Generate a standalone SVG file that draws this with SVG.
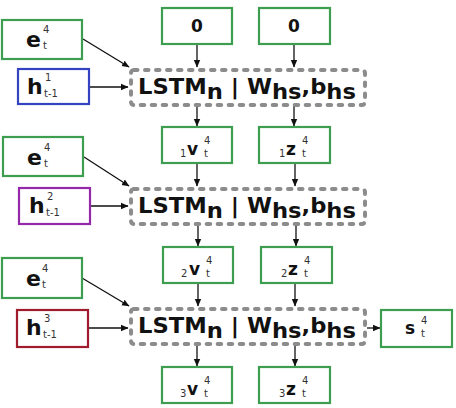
<svg xmlns="http://www.w3.org/2000/svg" width="456" height="408" viewBox="0 0 456 408">
<defs>
<marker id="ah" markerWidth="8" markerHeight="8" refX="7" refY="4" orient="auto" markerUnits="userSpaceOnUse">
<path d="M0,0.8 L7.5,4 L0,7.2 Z" fill="#111"/>
</marker>
<style>
.g{fill:#fff;stroke:#3d9e50;stroke-width:2.2}
.blue{fill:#fff;stroke:#3443c0;stroke-width:2.2}
.pur{fill:#fff;stroke:#9528a8;stroke-width:2.2}
.red{fill:#fff;stroke:#a01c2c;stroke-width:2.2}
.lstm{fill:#fff;stroke:#8c8c8c;stroke-width:4;stroke-dasharray:3.5 7.5;stroke-linecap:round}
.big{font-family:"DejaVu Sans",sans-serif;font-weight:bold;font-size:22px;fill:#111}
.mid{font-family:"DejaVu Sans",sans-serif;font-weight:bold;font-size:17px;fill:#111}
.sm{font-family:"DejaVu Sans",sans-serif;font-size:10px;fill:#333}
.lt{font-family:"DejaVu Sans",sans-serif;font-weight:bold;font-size:22px;fill:#111}
.c{stroke:#111;stroke-width:1.3;fill:none;marker-end:url(#ah)}
</style>
</defs>
<rect width="456" height="408" fill="#fff"/>
<g id="connectors">
<path class="c" d="M197,44 V67"/>
<path class="c" d="M294,44 V67"/>
<path class="c" d="M83,39 L129,67"/>
<path class="c" d="M89,87 H128"/>
<path class="c" d="M197,106 V126"/>
<path class="c" d="M294,106 V126"/>
<path class="c" d="M197,163 V186"/>
<path class="c" d="M295,163 V186"/>
<path class="c" d="M84,157 L129,186"/>
<path class="c" d="M90,206 H128"/>
<path class="c" d="M198,225 V246"/>
<path class="c" d="M296,225 V246"/>
<path class="c" d="M198,283 V306"/>
<path class="c" d="M295,283 V306"/>
<path class="c" d="M82,278 L129,306"/>
<path class="c" d="M88,328 H128"/>
<path class="c" d="M197,345 V366"/>
<path class="c" d="M295,345 V366"/>
<path class="c" d="M367,328 H380"/>
</g>
<g id="zero1"><rect class="g" x="162" y="8" width="70" height="36"/><text class="mid" x="197" y="32" text-anchor="middle">0</text></g>
<g id="zero2"><rect class="g" x="259" y="8" width="71" height="36"/><text class="mid" x="294" y="32" text-anchor="middle">0</text></g>
<g id="e1"><rect class="g" x="2" y="20" width="80" height="39"/><text class="big" x="26" y="47">e</text><text class="sm" x="43" y="33">4</text><text class="sm" x="43" y="49">t</text></g>
<g id="h1"><rect class="blue" x="18" y="69" width="71" height="35"/><text class="big" x="27" y="94">h</text><text class="sm" x="45" y="81">1</text><text class="sm" x="44" y="97">t-1</text></g>
<g id="lstm1"><rect class="lstm" x="131" y="70" width="234" height="35" rx="3"/><text class="lt" x="138" y="94" textLength="218" lengthAdjust="spacingAndGlyphs">LSTM<tspan dy="5">n</tspan><tspan dy="-5"> | W</tspan><tspan dy="5">hs</tspan><tspan dy="-5">,b</tspan><tspan dy="5">hs</tspan></text></g>
<g id="v1"><rect class="g" x="162" y="127" width="70" height="36"/><text class="sm" x="180" y="157">1</text><text class="mid" x="187" y="155">v</text><text class="sm" x="204" y="144">4</text><text class="sm" x="204" y="157">t</text></g>
<g id="z1"><rect class="g" x="259" y="127" width="71" height="36"/><text class="sm" x="279" y="157">1</text><text class="mid" x="286" y="155">z</text><text class="sm" x="302" y="144">4</text><text class="sm" x="302" y="157">t</text></g>
<g id="e2"><rect class="g" x="3" y="137" width="80" height="39"/><text class="big" x="27" y="165">e</text><text class="sm" x="44" y="151">4</text><text class="sm" x="44" y="167">t</text></g>
<g id="h2"><rect class="pur" x="19" y="188" width="71" height="36"/><text class="big" x="29" y="213">h</text><text class="sm" x="47" y="200">2</text><text class="sm" x="46" y="216">t-1</text></g>
<g id="lstm2"><rect class="lstm" x="131" y="189" width="234" height="35" rx="3"/><text class="lt" x="138" y="213" textLength="218" lengthAdjust="spacingAndGlyphs">LSTM<tspan dy="5">n</tspan><tspan dy="-5"> | W</tspan><tspan dy="5">hs</tspan><tspan dy="-5">,b</tspan><tspan dy="5">hs</tspan></text></g>
<g id="v2"><rect class="g" x="163" y="247" width="70" height="36"/><text class="sm" x="181" y="277">2</text><text class="mid" x="189" y="275">v</text><text class="sm" x="206" y="264">4</text><text class="sm" x="206" y="277">t</text></g>
<g id="z2"><rect class="g" x="261" y="247" width="71" height="36"/><text class="sm" x="281" y="277">2</text><text class="mid" x="288" y="275">z</text><text class="sm" x="304" y="264">4</text><text class="sm" x="304" y="277">t</text></g>
<g id="e3"><rect class="g" x="2" y="258" width="80" height="40"/><text class="big" x="26" y="286">e</text><text class="sm" x="42" y="272">4</text><text class="sm" x="42" y="288">t</text></g>
<g id="h3"><rect class="red" x="17" y="310" width="71" height="37"/><text class="big" x="26" y="335">h</text><text class="sm" x="44" y="322">3</text><text class="sm" x="43" y="338">t-1</text></g>
<g id="lstm3"><rect class="lstm" x="131" y="309" width="234" height="35" rx="3"/><text class="lt" x="138" y="333" textLength="218" lengthAdjust="spacingAndGlyphs">LSTM<tspan dy="5">n</tspan><tspan dy="-5"> | W</tspan><tspan dy="5">hs</tspan><tspan dy="-5">,b</tspan><tspan dy="5">hs</tspan></text></g>
<g id="s"><rect class="g" x="381" y="310" width="71" height="37"/><text class="mid" x="405" y="334">s</text><text class="sm" x="421" y="324">4</text><text class="sm" x="421" y="337">t</text></g>
<g id="v3"><rect class="g" x="162" y="367" width="70" height="36"/><text class="sm" x="180" y="397">3</text><text class="mid" x="187" y="395">v</text><text class="sm" x="204" y="384">4</text><text class="sm" x="204" y="397">t</text></g>
<g id="z3"><rect class="g" x="259" y="367" width="71" height="36"/><text class="sm" x="279" y="397">3</text><text class="mid" x="286" y="395">z</text><text class="sm" x="302" y="384">4</text><text class="sm" x="302" y="397">t</text></g>
</svg>
